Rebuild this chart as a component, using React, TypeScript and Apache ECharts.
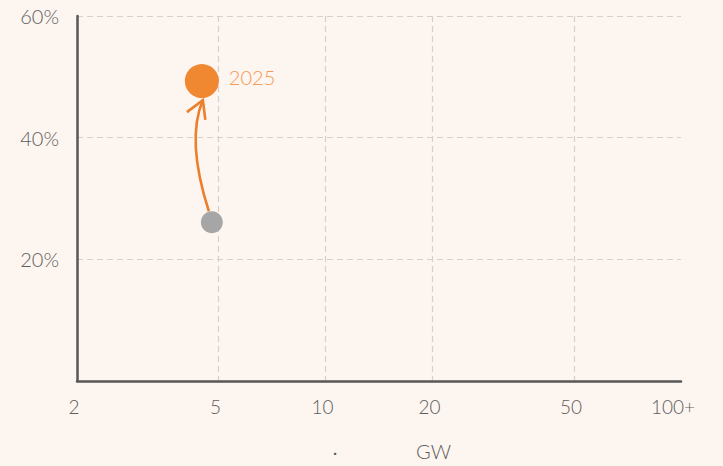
import React, { useEffect, useRef } from "react";
import * as echarts from "echarts";

const xTickValues = [2, 5, 10, 20, 50, 100];
const xGridValues = [5, 10, 20, 50];
const yTicks = [0, 20, 40, 60];
const pointNames = ["earlier", "2025"];
const pointGW = [4.79, 4.49];
const pointShare = [26.1, 49.3];
const axisName = "GW";

const lg = (v: number) => Math.log10(v);

export default function App() {
  const ref = useRef<HTMLDivElement>(null);
  useEffect(() => {
    document.body.style.margin = "0";
    document.body.style.background = "#fdf5f0";
    const chart = echarts.init(ref.current!, null, { renderer: "svg" });
    const font = "Lato, 'Noto Sans', sans-serif";
    const fw = 300;
    const txt = "#5e5e5e";
    const grid = { left: 77, right: 42, top: 16, bottom: 85 };
    chart.setOption({
      animation: false,
      backgroundColor: "#fdf5f0",
      textStyle: { fontFamily: font, fontWeight: fw },
      grid,
      xAxis: {
        type: "value",
        min: lg(2),
        max: lg(100),
        axisLine: { show: true, onZero: false, lineStyle: { color: "#575757", width: 2.5 } },
        axisTick: { show: false, customValues: xGridValues.map(lg) },
        axisLabel: {
          customValues: xTickValues.map(lg),
          color: txt,
          fontSize: 19,
          fontWeight: fw,
          fontFamily: font,
          margin: 16,
          formatter: (v: number) => {
            const n = Math.round(Math.pow(10, v));
            return n === 100 ? "{p|100+}" : "{q|" + n + "}";
          },
          rich: {
            p: { fontSize: 19, fontWeight: fw, color: txt, fontFamily: font, padding: [0, 16, 0, 0] },
            q: { fontSize: 19, fontWeight: fw, color: txt, fontFamily: font, padding: [0, 6, 0, 0] },
          },
        },
        splitLine: { show: true, lineStyle: { color: "#d3d0ce", type: [6, 4], width: 1.2 } },
      },
      yAxis: {
        type: "value",
        min: yTicks[0],
        max: yTicks[yTicks.length - 1],
        interval: 20,
        axisLine: { show: true, lineStyle: { color: "#575757", width: 2.5 } },
        axisTick: { show: false },
        axisLabel: {
          color: txt,
          fontSize: 20,
          fontWeight: fw,
          fontFamily: font,
          margin: 18,
          formatter: (v: number) => (v === 0 ? "" : v + "%"),
        },
        splitLine: { show: true, lineStyle: { color: "#d3d0ce", type: [6, 4], width: 1.2 } },
      },
      graphic: [
        { type: "text", left: 333, top: 443, style: { text: "·", fill: "#555", font: "400 16px " + font } },
        { type: "text", left: 416, top: 441, style: { text: axisName, fill: txt, font: "300 20px " + font } },
      ],
      series: [
        {
          type: "custom",
          coordinateSystem: "cartesian2d",
          z: 1,
          encode: { x: [0, 2], y: [1, 3] },
          data: [[lg(pointGW[0]), pointShare[0], lg(pointGW[1]), pointShare[1]]],
          renderItem: (params: any, api: any) => {
            const p0 = api.coord([api.value(0), api.value(1)]);
            const p1 = api.coord([api.value(2), api.value(3)]);
            const s = [p0[0] - 3, p0[1] - 11];
            const e = [p1[0] + 1, p1[1] + 19];
            const c = [p0[0] - 26, p0[1] - 82];
            const tx = e[0] - c[0];
            const ty = e[1] - c[1];
            const len = Math.sqrt(tx * tx + ty * ty);
            const bx = -tx / len;
            const by = -ty / len;
            const ang = (30 * Math.PI) / 180;
            const L = 20;
            const r1 = [bx * Math.cos(ang) - by * Math.sin(ang), bx * Math.sin(ang) + by * Math.cos(ang)];
            const r2 = [bx * Math.cos(-ang) - by * Math.sin(-ang), bx * Math.sin(-ang) + by * Math.cos(-ang)];
            const stroke = "#ec7f2c";
            return {
              type: "group",
              children: [
                {
                  type: "bezierCurve",
                  shape: { x1: s[0], y1: s[1], x2: e[0], y2: e[1], cpx1: c[0], cpy1: c[1] },
                  style: { stroke, lineWidth: 2.6, fill: null },
                },
                {
                  type: "polyline",
                  shape: {
                    points: [
                      [e[0] + r1[0] * L, e[1] + r1[1] * L],
                      e,
                      [e[0] + r2[0] * L, e[1] + r2[1] * L],
                    ],
                  },
                  style: { stroke, lineWidth: 2.6, fill: null },
                },
              ],
            };
          },
        },
        {
          type: "scatter",
          z: 3,
          itemStyle: { opacity: 1 },
          data: [
            {
              name: pointNames[0],
              value: [lg(pointGW[0]), pointShare[0]],
              symbolSize: 22,
              itemStyle: { color: "#a6a6a6", opacity: 1 },
            },
            {
              name: pointNames[1],
              value: [lg(pointGW[1]), pointShare[1]],
              symbolSize: 34,
              itemStyle: { color: "#f08731", opacity: 1 },
              label: {
                show: true,
                position: "right",
                distance: 10,
                offset: [0, -4],
                formatter: "{b}",
                color: "#f39a55",
                fontSize: 20,
                fontWeight: fw,
                fontFamily: font,
              },
            },
          ],
        },
      ],
    });
    return () => chart.dispose();
  }, []);
  return <div ref={ref} style={{ position: "fixed", left: 0, top: 0, width: 723, height: 466 }} />;
}
